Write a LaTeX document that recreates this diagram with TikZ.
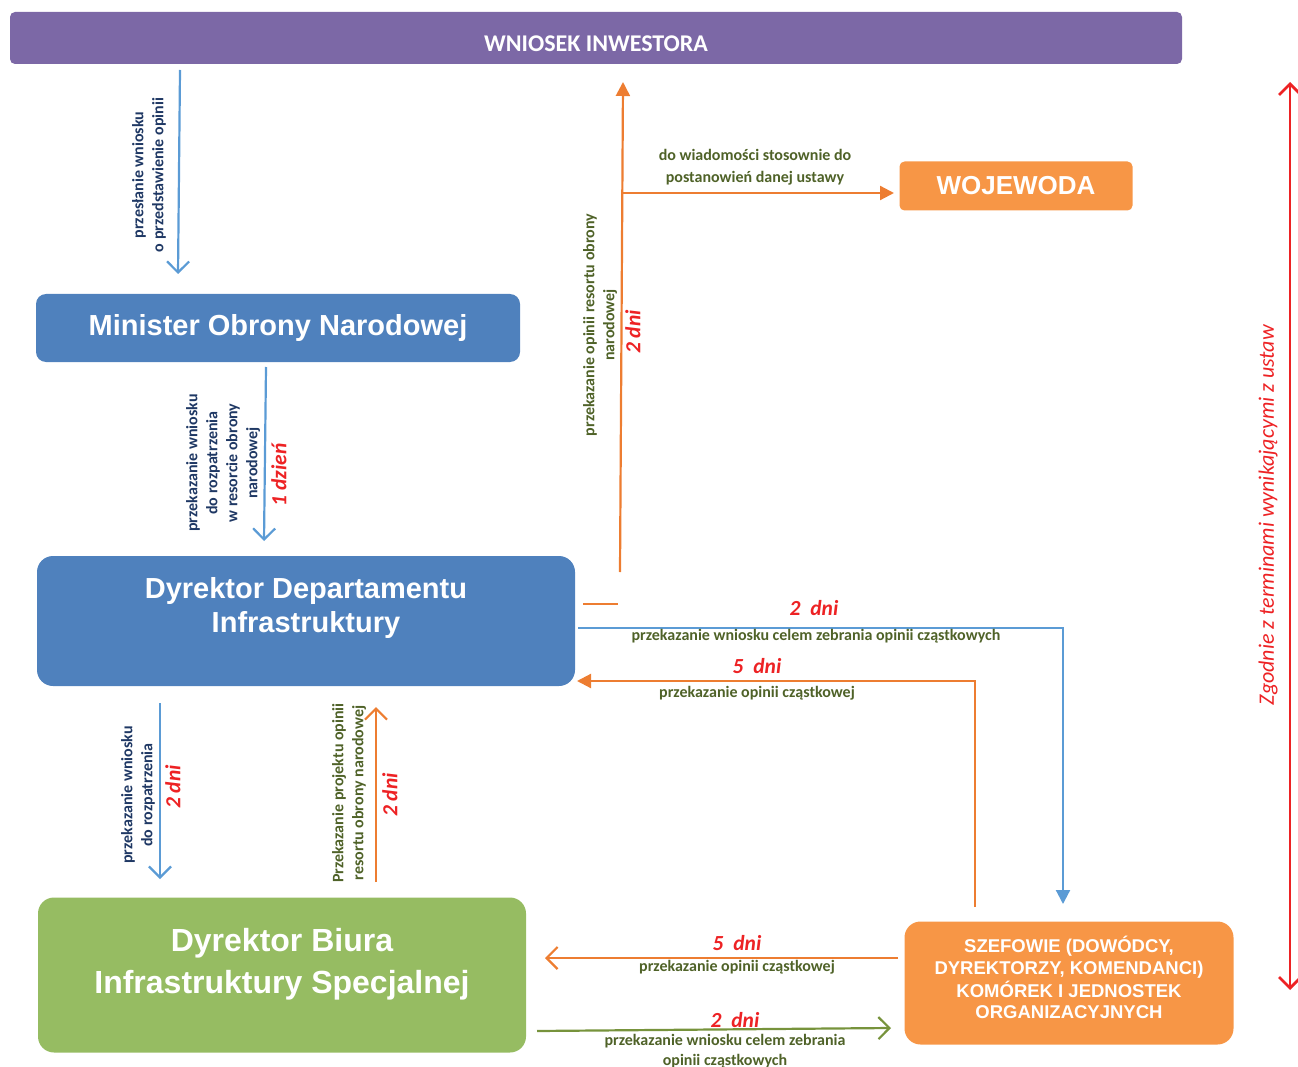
\documentclass[tikz,border=0pt]{standalone}
\usepackage{fontspec}
\setmainfont{Carlito}
\newfontfamily\arialfont{Liberation Sans}
\usetikzlibrary{arrows.meta}

\definecolor{fiolet}{RGB}{124,104,166}
\definecolor{niebieski}{RGB}{79,129,189}
\definecolor{zielony}{RGB}{150,188,98}
\definecolor{pomarancz}{RGB}{247,150,70}
\definecolor{strzalkanieb}{RGB}{91,155,213}
\definecolor{strzalkapom}{RGB}{237,125,49}
\definecolor{strzalkaziel}{RGB}{119,147,60}
\definecolor{granat}{RGB}{31,56,100}
\definecolor{oliwka}{RGB}{79,98,40}
\definecolor{czerwony}{RGB}{237,34,36}

\begin{document}
\begin{tikzpicture}[x=1pt,y=-1pt]
            \tikzstyle{box}=[rounded corners=10pt, text=white, align=center,
            inner sep=0pt]
            \tikzstyle{opis}=[font=\bfseries\fontsize{16}{20}\selectfont,
            text=oliwka, align=center, inner sep=0pt]
            \tikzstyle{dni}=[font=\bfseries\itshape\fontsize{21.5}{24}\selectfont,
            text=czerwony, inner sep=0pt]
            \tikzstyle{otwarta}=[line width=2.2pt, -{Straight Barb[length=11pt,width=22pt]}]
            \tikzstyle{pelna}=[line width=2.2pt, -{Triangle[length=14pt,width=14pt]}]
            \useasboundingbox (0,0) rectangle (1298,1067);

            % bloki
            \node[box, fill=fiolet, rounded corners=5pt, minimum width=1172pt,
            minimum height=52pt, font=\bfseries\fontsize{24}{28}\selectfont]
            (bar) at (596,38) {\raisebox{-14pt}[0pt][0pt]{WNIOSEK INWESTORA}};
            \node[box, fill=niebieski, minimum width=484pt, minimum height=68pt,
            font=\arialfont\bfseries\fontsize{29}{34}\selectfont]
            (mon) at (278,328) {Minister Obrony Narodowej};
            \node[box, fill=niebieski, rounded corners=16pt, minimum width=538pt,
            minimum height=130pt, font=\arialfont\bfseries\fontsize{29}{34}\selectfont]
            (ddi) at (306,621) {\raisebox{6pt}[0pt][0pt]{\begin{tabular}{@{}c@{}}Dyrektor Departamentu\\Infrastruktury\end{tabular}}};
            \node[box, fill=zielony, rounded corners=16pt, minimum width=488pt,
            minimum height=155pt, font=\arialfont\bfseries\fontsize{32}{42}\selectfont]
            (dbis) at (282,975) {\raisebox{5pt}[0pt][0pt]{\begin{tabular}{@{}c@{}}Dyrektor Biura\\Infrastruktury Specjalnej\end{tabular}}};
            \node[box, fill=pomarancz, rounded corners=5pt, minimum width=233pt,
            minimum height=49pt, font=\arialfont\bfseries\fontsize{26}{30}\selectfont]
            (woj) at (1016,186) {WOJEWODA};
            \node[box, fill=pomarancz, rounded corners=16pt, minimum width=329pt,
            minimum height=123pt, font=\arialfont\bfseries\fontsize{18.5}{21.3}\selectfont]
            (szef) at (1069,983) {\raisebox{-2pt}[0pt][0pt]{\begin{tabular}{@{}c@{}}SZEFOWIE (DOWÓDCY,\\DYREKTORZY, KOMENDANCI)\\KOMÓREK I JEDNOSTEK\\ORGANIZACYJNYCH\end{tabular}}};

            % punkty strzalek
            \coordinate (p1) at (180,70);   \coordinate (k1) at (178,274);
            \coordinate (p2) at (266,367);  \coordinate (k2) at (264,541);
            \coordinate (p3) at (620,572);  \coordinate (k3) at (623,82);
            \coordinate (r3) at (622,193);  \coordinate (k4) at (894,193);
            \coordinate (p6) at (578,628);  \coordinate (z6) at (1063,628);
            \coordinate (k6) at (1063,904);
            \coordinate (p7) at (975,907);  \coordinate (z7) at (975,681);
            \coordinate (k7) at (577,681);
            \coordinate (p8) at (160,703);  \coordinate (k8) at (160,879);
            \coordinate (p9) at (376,882);  \coordinate (k9) at (376,707);
            \coordinate (p10) at (898,958); \coordinate (k10) at (545,958);
            \coordinate (p11) at (537,1031); \coordinate (k11) at (891,1028);
            \coordinate (p12) at (1290,82); \coordinate (k12) at (1290,990);

            % strzalki
            \draw[otwarta, strzalkanieb] (p1) -- (k1);
            \draw[otwarta, strzalkanieb] (p2) -- (k2);
            \draw[pelna, strzalkapom] (p3) -- (k3);
            \draw[pelna, strzalkapom] (r3) -- (k4);
            \draw[strzalkapom, line width=2.2pt] (583,604) -- (618,604);
            \draw[pelna, strzalkanieb] (p6) -- (z6) -- (k6);
            \draw[pelna, strzalkapom] (p7) -- (z7) -- (k7);
            \draw[otwarta, strzalkanieb] (p8) -- (k8);
            \draw[otwarta, strzalkapom] (p9) -- (k9);
            \draw[otwarta, strzalkapom] (p10) -- (k10);
            \draw[otwarta, strzalkaziel] (p11) -- (k11);
            \draw[otwarta, czerwony, line width=2.8pt,
            {Straight Barb[length=11pt,width=22pt]}-{Straight Barb[length=11pt,width=22pt]}] (p12) -- (k12);

            % opisy
            \node[opis, text=granat, rotate=90] (l1) at (149,175)
            {przesłanie wniosku\\o przedstawienie opinii};
            \node[opis, text=granat, rotate=90] (l2) at (223,463)
            {przekazanie wniosku\\do rozpatrzenia\\w resorcie obrony\\narodowej};
            \node[dni, rotate=90] (d2) at (279,475) {1 dzień};
            \node[opis, rotate=90] (l3) at (600,325)
            {przekazanie opinii resortu obrony\\narodowej};
            \node[dni, rotate=90] (d3) at (633,332) {2 dni};
            \node[opis, font=\bfseries\fontsize{16}{22}\selectfont] (l4) at (755,167)
            {do wiadomości stosownie do\\postanowień danej ustawy};
            \node[dni] (d6) at (814,608) {2~~dni};
            \node[opis] (l6) at (816,636)
            {przekazanie wniosku celem zebrania opinii cząstkowych};
            \node[dni] (d7) at (757,666) {5~~dni};
            \node[opis] (l7) at (757,693) {przekazanie opinii cząstkowej};
            \node[opis, text=granat, rotate=90] (l8) at (138,795)
            {przekazanie wniosku\\do rozpatrzenia};
            \node[dni, rotate=90] (d8) at (173,787) {2 dni};
            \node[opis, rotate=90] (l9) at (349,793)
            {Przekazanie projektu opinii\\resortu obrony narodowej};
            \node[dni, rotate=90] (d9) at (390,795) {2 dni};
            \node[dni] (d10) at (737,943) {5~~dni};
            \node[opis] (l10) at (737,967) {przekazanie opinii cząstkowej};
            \node[dni] (d11) at (735,1020) {2~~dni};
            \node[opis] (l11) at (725,1051)
            {przekazanie wniosku celem zebrania\\opinii cząstkowych};
            \node[rotate=90, text=czerwony, inner sep=0pt,
            font=\itshape\fontsize{22}{24}\selectfont] (l12) at (1268,515)
            {Zgodnie z terminami wynikającymi z ustaw};
        \end{tikzpicture}
\end{document}
